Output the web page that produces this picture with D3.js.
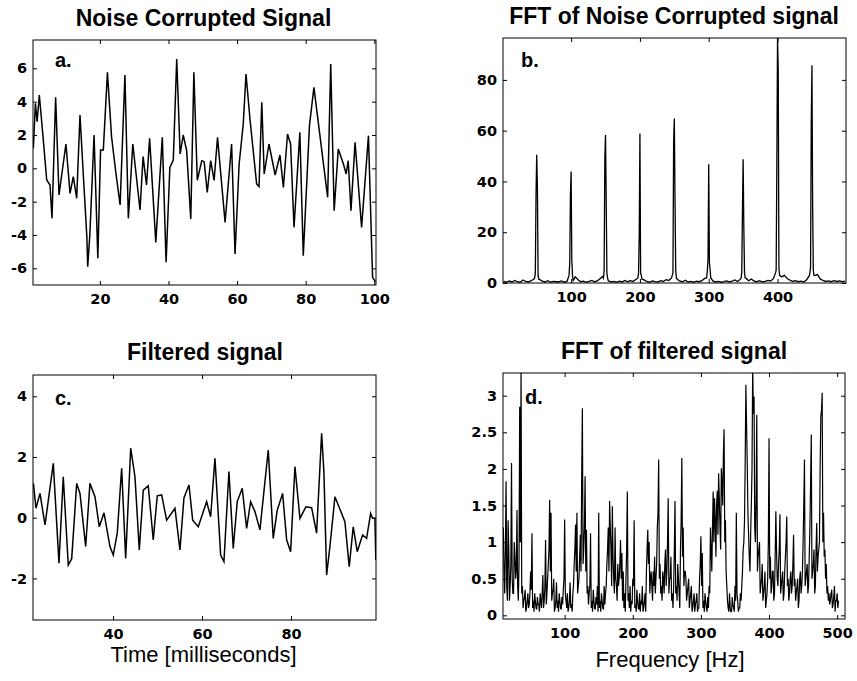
<!DOCTYPE html>
<html>
<head>
<meta charset="utf-8">
<script src="https://cdn.jsdelivr.net/npm/d3@7"></script>
<style>
  body { margin: 0; background: #fff; }
  svg text { fill: #000; }
  .tick text { font-family: "DejaVu Sans", sans-serif; font-weight: bold; font-size: 14.5px; }
  .title { font-family: "Liberation Sans", Arial, sans-serif; font-weight: bold; font-size: 23px; text-anchor: middle; }
  .xlabel { font-family: "Liberation Sans", Arial, sans-serif; font-size: 22px; text-anchor: middle; }
  .plabel { font-family: "Liberation Sans", Arial, sans-serif; font-weight: bold; font-size: 20px; }
</style>
</head>
<body>
<svg id="chart" width="857" height="681"></svg>
<script>
// a. noise corrupted signal (time in ms, amplitude)
const timeA = [0.6, 1.2, 1.7, 2.34, 3.42, 4.5, 5.46, 6.04, 7.1, 8.08, 10.1, 11.3, 12.25, 13.24, 14.2,
  15.2, 16.2, 16.45, 17.1, 18.3, 19.4, 20.2, 21.0, 22.2, 23.4, 24.7, 25.9, 27.3, 28.3, 29.6, 31.7,
  32.6, 33.6, 34.5, 36.3, 38.2, 39.3, 40.4, 41.4, 42.4, 43.4, 44.3, 45.3, 46.5, 47.4, 48.4, 49.7,
  50.4, 51.3, 52.3, 53.3, 54.3, 56.5, 58.4, 59.4, 60.6, 61.8, 62.6, 63.8, 65.7, 66.4, 67.2, 67.9,
  69.3, 71.1, 72.5, 73.5, 74.7, 75.6, 76.6, 78.3, 79.3, 81.1, 82.4, 86.4, 87.3, 88.3, 89.5, 91.0,
  91.8, 92.4, 93.2, 94.4, 96.3, 98.3, 99.5, 100.3];
const signalA = [1.2, 3.9, 2.8, 4.4, 1.9, -0.7, -1.0, -3.0, 4.26, -1.6, 1.46, -1.5, -0.5, -1.8, 3.2,
  -0.5, -4.1, -5.9, -3.9, 2.0, -5.4, 1.1, 1.1, 5.76, 1.9, -0.34, -2.2, 5.6, -3.0, 1.46, -2.5,
  0.7, -1.0, 1.8, -4.44, 1.86, -5.64, 0.06, 0.5, 6.56, 0.86, 2.0, 1.06, -3.04, 5.76, -0.72, 0.46,
  0.4, -1.44, 0.46, -0.72, 1.86, -3.24, 1.46, -5.14, 0.26, 2.66, 5.66, 2.86, -0.94, -1.1, 3.96, -0.34,
  1.46, -0.4, 0.8, -1.14, 2.06, 1.46, -3.54, 2.16, -5.24, 2.56, 4.86, -1.74, 6.26, -2.54, 1.16, 0.26,
  -0.34, 0.46, -2.54, 1.56, -3.54, 1.96, -6.54, -6.8];

// b. spectrum of the noisy signal: low floor every 4 Hz plus the nine tones
const floorStartB = 2, floorStepB = 4;
const floorB = [
  0.6, 0.3, 0.8, 0.4, 1.0, 0.5, 0.3, 1.2, 0.6, 0.4,
  0.9, 1.6, 2.2, 1.4, 0.7, 0.4, 0.9, 0.3, 0.6, 0.5,
  0.4, 0.8, 0.3, 0.6, 1.1, 1.9, 2.4, 1.3, 0.5, 0.7,
  0.3, 0.6, 1.0, 0.5, 0.8, 1.7, 2.6, 1.5, 0.9, 0.4,
  0.6, 0.3, 0.7, 0.4, 1.0, 0.5, 0.9, 0.6, 1.4, 2.1,
  2.5, 1.2, 0.6, 0.3, 0.8, 0.5, 0.4, 0.9, 0.6, 1.3,
  1.0, 2.0, 2.8, 1.6, 0.7, 0.5, 1.1, 0.4, 0.6, 0.3,
  0.7, 0.5, 0.9, 1.8, 2.7, 1.5, 0.8, 0.4, 0.6, 0.3,
  0.5, 0.8, 0.4, 0.7, 1.2, 0.6, 1.5, 2.3, 1.9, 0.9,
  1.6, 0.7, 0.5, 0.9, 0.4, 0.6, 1.0, 0.8, 1.7, 2.6,
  3.2, 2.4, 3.0, 1.8, 1.1, 0.6, 0.9, 0.5, 0.7, 0.4,
  1.2, 2.8, 3.5, 2.9, 3.3, 1.6, 1.0, 0.6, 0.8, 0.5,
  0.9, 0.6, 0.8, 0.5, 0.7];
const toneFreqB = [50, 100, 150, 200, 250, 300, 350, 400, 450];
const toneOffsetB = [-3, -2, -1, 0, 1, 2, 3];
const toneShapeB = [
  [2, 4, 35, 50.5, 38, 3, 1.5],
  [3, 8, 35, 43.9, 9, 3, 1],
  [2, 5, 49, 58.3, 32, 4, 2],
  [2, 4, 19, 58.9, 4, 3, 1.5],
  [3, 4, 56, 64.8, 33, 5, 2],
  [2, 5, 10, 46.8, 8, 5, 2],
  [2, 4, 28, 48.7, 22, 4, 2],
  [4, 5, 47, 96.5, 84, 6, 3],
  [4, 6, 63, 85.8, 31, 5, 3]
];

// c. filtered signal
const timeC = [22.1, 22.67, 23.57, 24.7, 26.56, 27.84, 28.8, 29.93, 30.7, 31.82, 32.56, 33.84, 34.8,
  35.93, 36.9, 37.96, 39.3, 40.04, 40.94, 41.93, 42.83, 43.96, 44.92, 45.89, 46.79, 47.91, 49.03,
  49.93, 50.92, 52.04, 53.91, 55.03, 55.93, 57.06, 57.89, 59.15, 61.03, 61.93, 62.9, 64.18, 64.92,
  66.04, 67.01, 67.91, 69.03, 70.02, 70.92, 71.89, 73.01, 74.88, 76.0, 76.9, 78.11, 79.01, 79.91,
  80.88, 82.0, 83.35, 84.63, 85.75, 86.88, 87.39, 88.0, 88.74, 89.87, 92.11, 93.08, 93.98, 94.88,
  96.09, 96.99, 97.89, 98.34, 98.85, 99.07];
const signalC = [1.13, 0.31, 0.8, -0.24, 1.79, -1.5, 1.35, -1.56, -1.35, 1.13, 0.8, -0.95, 1.13,
  0.69, -0.3, 0.16, -0.95, -1.23, -0.51, 1.63, -1.34, 2.29, 1.35, -1.06, 0.91, 1.05, -0.73,
  0.72, 0.75, -0.08, 0.31, -1.06, 0.65, 1.08, -0.08, -0.3, 0.53, 0.03, 1.96, -1.23, -1.45,
  1.52, -1.01, 0.53, 0.97, -0.35, 0.53, 0.2, -0.4, 2.23, -0.68, 0.25, 0.8, -0.73, -1.12,
  1.68, -0.02, 0.36, 0.33, -0.51, 2.78, 1.5, -1.89, -0.95, 0.69, -0.13, -1.61, -0.3, -1.12,
  -0.57, -0.68, 0.14, -0.02, -0.02, -1.39];

// d. spectrum of the filtered signal, 1 Hz bins from 10 Hz: even bins and odd bins
const freqStartD = 10, freqStepD = 2;
const spectrumEvenD = [
  1.2, 0.3, 1.83, 0.2, 0.9, 0.4, 2.08, 0.3, 1.0, 0.5,
  1.44, 0.2, 2.85, 3.4, 0.4, 0.2, 0.35, 0.1, 0.3, 0.15,
  0.6, 1.12, 0.2, 0.3, 0.1, 0.25, 0.15, 0.3, 0.1, 0.55,
  0.2, 1.03, 0.3, 0.7, 1.58, 1.4, 0.3, 0.5, 0.1, 0.45,
  0.2, 0.3, 0.1, 0.25, 0.35, 1.31, 0.2, 0.3, 0.1, 0.45,
  0.15, 0.3, 0.7, 1.24, 1.4, 0.4, 0.8, 0.6, 2.83, 0.9,
  1.9, 1.17, 0.4, 0.3, 1.12, 0.2, 0.35, 0.1, 0.25, 0.4,
  1.4, 0.2, 0.3, 0.1, 0.4, 0.3, 0.7, 1.2, 1.56, 0.9,
  1.49, 0.5, 1.2, 0.4, 0.7, 0.5, 1.03, 0.85, 0.6, 0.3,
  0.5, 1.69, 0.3, 0.4, 0.2, 0.5, 1.3, 0.15, 0.35, 0.1,
  0.3, 0.2, 0.4, 0.1, 0.3, 0.6, 1.17, 1.0, 0.5, 0.4,
  0.6, 0.8, 0.5, 1.2, 2.13, 0.7, 0.4, 0.6, 0.3, 0.9,
  0.6, 1.6, 0.5, 0.8, 0.3, 0.4, 1.56, 0.4, 0.7, 0.3,
  0.9, 2.15, 1.2, 0.6, 0.5, 0.3, 0.5, 0.2, 0.4, 0.1,
  0.3, 0.15, 0.3, 0.1, 0.5, 1.08, 0.85, 0.2, 0.3, 0.1,
  0.25, 0.4, 1.2, 0.6, 1.69, 1.6, 0.8, 1.7, 1.94, 1.2,
  2.01, 1.5, 2.54, 1.3, 0.4, 0.1, 0.3, 0.05, 0.25, 0.1,
  0.4, 1.4, 0.2, 0.1, 0.3, 0.4, 0.9, 1.3, 3.15, 2.08,
  1.1, 0.6, 1.5, 3.4, 2.99, 1.0, 2.74, 0.8, 1.0, 0.4,
  0.7, 0.3, 0.6, 0.2, 0.5, 2.42, 0.8, 0.4, 0.6, 0.3,
  1.42, 0.5, 0.7, 1.38, 0.4, 0.6, 0.3, 0.8, 1.35, 0.5,
  0.3, 0.6, 0.4, 1.1, 0.5, 0.3, 0.5, 0.2, 0.6, 0.4,
  1.0, 2.13, 0.5, 0.7, 0.4, 1.2, 2.47, 0.6, 0.9, 0.4,
  1.26, 0.8, 1.0, 2.72, 3.04, 1.4, 0.9, 0.7, 0.4, 0.3,
  0.2, 0.35, 0.15, 0.4, 0.2, 0.3, 0.2];
const spectrumOddD = [
  0.6, 0.9, 0.4, 1.3, 0.2, 0.7, 0.5, 0.3, 0.8, 0.6,
  0.4, 0.7, 1.0, 0.3, 0.1, 0.25, 0.05, 0.2, 0.1, 0.3,
  0.35, 0.1, 0.05, 0.2, 0.08, 0.15, 0.05, 0.2, 0.3, 0.1,
  0.4, 0.15, 0.5, 0.9, 0.6, 0.2, 0.35, 0.05, 0.2, 0.1,
  0.05, 0.2, 0.08, 0.15, 0.5, 0.3, 0.1, 0.05, 0.2, 0.1,
  0.05, 0.4, 0.9, 0.6, 0.3, 0.5, 1.1, 1.9, 0.7, 1.2,
  0.6, 0.3, 0.15, 0.4, 0.1, 0.05, 0.2, 0.08, 0.15, 0.05,
  0.1, 0.05, 0.2, 0.08, 0.15, 0.4, 0.9, 0.6, 1.2, 0.4,
  0.8, 0.3, 0.5, 0.2, 0.4, 0.7, 0.5, 0.2, 0.1, 0.05,
  0.9, 0.2, 0.1, 0.05, 0.15, 0.4, 0.1, 0.05, 0.2, 0.08,
  0.05, 0.15, 0.05, 0.2, 0.05, 0.9, 0.7, 0.3, 0.6, 0.2,
  0.4, 0.3, 0.7, 1.4, 0.5, 0.3, 0.2, 0.5, 0.7, 0.4,
  1.0, 0.3, 0.5, 0.2, 0.1, 0.9, 0.3, 0.2, 0.5, 0.1,
  1.3, 0.8, 0.4, 0.6, 0.2, 0.4, 0.1, 0.3, 0.05, 0.2,
  0.05, 0.2, 0.05, 0.1, 0.7, 0.4, 0.1, 0.05, 0.2, 0.05,
  0.1, 0.3, 0.9, 1.2, 1.0, 1.3, 1.5, 1.1, 1.6, 0.9,
  1.8, 2.2, 1.0, 0.6, 0.2, 0.05, 0.1, 0.05, 0.15, 0.05,
  0.2, 0.3, 0.05, 0.1, 0.2, 0.6, 1.0, 2.1, 2.6, 1.4,
  0.8, 1.1, 2.0, 2.75, 1.2, 1.6, 0.6, 0.9, 0.3, 0.5,
  0.2, 0.4, 0.1, 0.3, 1.0, 0.5, 0.3, 0.6, 0.2, 0.8,
  0.9, 0.4, 0.9, 0.3, 0.5, 0.2, 0.6, 1.0, 0.4, 0.2,
  0.5, 0.3, 0.7, 0.4, 0.2, 0.4, 0.1, 0.5, 0.3, 0.6,
  1.5, 0.4, 0.6, 0.3, 0.8, 1.8, 0.5, 0.7, 0.3, 0.9,
  0.6, 0.9, 2.0, 2.8, 1.0, 0.8, 0.5, 0.3, 0.2, 0.15,
  0.3, 0.1, 0.25, 0.05, 0.2, 0.1];

const ticksA = { x: [20, 40, 60, 80, 100], y: [-6, -4, -2, 0, 2, 4, 6] };
const ticksB = { x: [100, 200, 300, 400], y: [0, 20, 40, 60, 80] };
const ticksC = { x: [40, 60, 80], y: [-2, 0, 2, 4] };
const ticksD = { x: [100, 200, 300, 400, 500], y: [0, 0.5, 1, 1.5, 2, 2.5, 3] };

const svg = d3.select('#chart');

// build point lists
const pointsA = timeA.map((t, i) => [t, signalA[i]]);
const pointsC = timeC.map((t, i) => [t, signalC[i]]);
const pointsD = spectrumEvenD.map((v, i) => [freqStartD + i * freqStepD, v])
  .concat(spectrumOddD.map((v, i) => [freqStartD + 1 + i * freqStepD, v]))
  .sort((a, b) => a[0] - b[0]);

let pointsB = floorB.map((v, i) => [floorStartB + i * floorStepB, v])
  .filter(p => !toneFreqB.some(f => Math.abs(p[0] - f) < 3.5));
toneFreqB.forEach((f, k) => {
  toneOffsetB.forEach((o, j) => pointsB.push([f + o, toneShapeB[k][j]]));
});
pointsB.sort((a, b) => a[0] - b[0]);

function drawPanel(p) {
  const g = svg.append('g');
  const x = d3.scaleLinear().domain(p.xDomain).range([p.left, p.right]);
  const y = d3.scaleLinear().domain(p.yDomain).range([p.bottom, p.top]);

  svg.append('clipPath').attr('id', 'clip-' + p.id)
    .append('rect')
    .attr('x', p.left).attr('y', p.top)
    .attr('width', p.right - p.left).attr('height', p.bottom - p.top);

  g.append('path')
    .datum(p.points)
    .attr('clip-path', `url(#clip-${p.id})`)
    .attr('fill', 'none')
    .attr('stroke', '#000')
    .attr('stroke-width', p.lineWidth)
    .attr('d', d3.line().x(d => x(d[0])).y(d => y(d[1])));

  const fmt = d => String(d);
  const strip = a => a.select('.domain').remove();

  g.append('g')
    .attr('transform', `translate(0,${p.bottom})`)
    .call(d3.axisBottom(x).tickValues(p.ticks.x).tickFormat(fmt).tickSize(-4).tickPadding(9))
    .call(strip);
  g.append('g')
    .attr('transform', `translate(0,${p.top})`)
    .call(d3.axisTop(x).tickValues(p.ticks.x).tickFormat('').tickSize(-4))
    .call(strip);
  g.append('g')
    .attr('transform', `translate(${p.left},0)`)
    .call(d3.axisLeft(y).tickValues(p.ticks.y).tickFormat(fmt).tickSize(-4).tickPadding(6))
    .call(strip);
  g.append('g')
    .attr('transform', `translate(${p.right},0)`)
    .call(d3.axisRight(y).tickValues(p.ticks.y).tickFormat('').tickSize(-4))
    .call(strip);

  g.append('rect')
    .attr('x', p.left).attr('y', p.top)
    .attr('width', p.right - p.left).attr('height', p.bottom - p.top)
    .attr('fill', 'none').attr('stroke', '#000').attr('stroke-width', 1);

  g.append('text').attr('class', 'title')
    .attr('x', (p.left + p.right) / 2 + p.titleShift).attr('y', p.titleY)
    .text(p.title);

  g.append('text').attr('class', 'plabel')
    .attr('x', p.left + p.tagDx).attr('y', p.top + p.tagDy)
    .text(p.tag);

  if (p.xlabel) {
    g.append('text').attr('class', 'xlabel')
      .attr('x', (p.left + p.right) / 2 + p.xlabelShift).attr('y', p.xlabelY)
      .text(p.xlabel);
  }
}

drawPanel({
  id: 'a', points: pointsA, ticks: ticksA, lineWidth: 1.5,
  xDomain: [0.5, 100.5], yDomain: [-7, 7.7],
  left: 33, right: 376, top: 40, bottom: 285,
  title: 'Noise Corrupted Signal', titleY: 26, titleShift: -1,
  tag: 'a.', tagDx: 22, tagDy: 27
});
drawPanel({
  id: 'b', points: pointsB, ticks: ticksB, lineWidth: 1.3,
  xDomain: [1, 499.5], yDomain: [0, 96.5],
  left: 503, right: 846, top: 38, bottom: 283,
  title: 'FFT of Noise Corrupted signal', titleY: 24, titleShift: -0.5,
  tag: 'b.', tagDx: 18, tagDy: 29
});
drawPanel({
  id: 'c', points: pointsC, ticks: ticksC, lineWidth: 1.5,
  xDomain: [22, 99.1], yDomain: [-3.37, 4.7],
  left: 33, right: 376, top: 375, bottom: 620,
  title: 'Filtered signal', titleY: 360, titleShift: 0.5,
  tag: 'c.', tagDx: 22, tagDy: 30,
  xlabel: 'Time [milliseconds]', xlabelY: 662, xlabelShift: -1
});
drawPanel({
  id: 'd', points: pointsD, ticks: ticksD, lineWidth: 1.2,
  xDomain: [9.5, 511.5], yDomain: [-0.05, 3.31],
  left: 503, right: 845, top: 373, bottom: 619,
  title: 'FFT of filtered signal', titleY: 359, titleShift: 0,
  tag: 'd.', tagDx: 22, tagDy: 31,
  xlabel: 'Frequency [Hz]', xlabelY: 667, xlabelShift: -4
});
</script>
</body>
</html>
